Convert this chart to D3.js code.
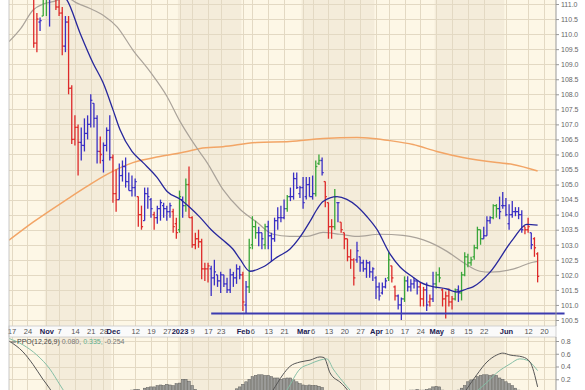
<!DOCTYPE html>
<html>
<head>
<meta charset="utf-8">
<script src="https://cdn.jsdelivr.net/npm/d3@7"></script>
<style>
  body { margin: 0; background: #fff; }
  svg { display: block; font-family: "Liberation Sans", Arial, sans-serif; }
</style>
</head>
<body>
<svg id="chart" width="585" height="390"></svg>
<script>
// daily bars, index 0 = Oct 17 2022 (trading days)
const opens = [113.2,112.0,112.1,112.9,112.8,112.0,112.0,111.3,109.7,110.4,
  110.6,111.5,111.4,111.5,112.9,110.9,110.7,109.6,110.4,108.2,
  106.5,106.9,106.4,106.3,106.7,107.0,107.7,107.2,106.1,105.8,
  106.3,106.8,105.9,104.7,104.5,105.3,105.6,105.1,104.8,104.9,
  104.6,104.0,103.8,104.7,104.5,104.0,103.9,104.2,104.3,104.2,
  104.1,104.1,103.7,103.5,104.5,104.3,105.0,103.9,103.0,103.2,
  103.1,102.2,102.2,102.2,101.9,102.0,101.8,102.0,101.7,101.5,
  102.0,101.9,102.2,102.0,101.0,101.6,103.0,103.6,103.4,103.4,
  103.0,103.6,103.3,103.2,103.8,103.9,103.9,104.2,104.6,104.6,
  105.2,104.7,104.9,104.6,105.0,104.6,104.7,105.7,105.8,105.1,
  104.4,103.6,103.6,104.4,103.75,103.4,103.2,102.6,102.5,102.5,
  102.6,102.4,102.2,102.4,102.1,101.9,101.6,101.4,101.6,101.9,
  102.3,101.6,101.3,101.0,101.2,101.8,101.6,101.7,101.8,101.6,
  101.2,101.5,101.1,101.2,101.7,102.0,101.5,101.2,101.3,101.1,
  101.2,101.5,101.4,102.0,102.6,102.4,102.6,102.9,103.5,103.2,
  103.3,103.8,103.9,104.3,104.2,104.3,104.3,103.7,104.0,104.1,
  104.1,104.0,103.6,103.5,103.4,103.2,102.7];
const highs = [113.3,112.6,113.0,113.1,113.9,112.3,112.1,111.4,110.7,110.55,
  111.6,111.8,111.8,113.1,113.0,111.3,110.9,110.6,110.6,108.3,
  107.3,107.0,106.9,107.2,107.3,108.0,107.7,107.3,106.6,106.4,
  106.9,107.3,106.0,105.5,105.7,105.8,105.9,105.4,105.3,105.2,
  104.6,104.3,104.9,104.9,104.55,104.1,104.3,104.5,104.4,104.3,
  104.4,104.2,103.9,104.8,104.6,105.2,105.6,103.95,103.4,103.5,
  103.2,102.4,102.4,102.3,102.5,102.0,102.1,102.0,101.9,102.2,
  102.1,102.35,102.3,102.1,101.8,103.2,103.95,103.8,103.6,103.4,
  103.7,103.8,103.4,103.9,104.25,104.3,104.5,104.65,104.9,105.4,
  105.4,104.95,105.25,105.25,105.25,105.3,105.8,106.0,105.9,105.1,
  104.4,103.85,104.85,104.4,103.75,103.4,103.2,102.85,102.55,103.1,
  102.6,102.5,102.5,102.45,102.25,101.95,101.75,101.75,101.9,102.75,
  102.3,101.65,101.35,101.25,101.95,101.95,101.85,101.9,101.8,101.75,
  101.6,101.75,101.35,102.1,102.1,102.25,101.55,101.45,101.55,101.3,
  101.55,101.65,102.1,102.75,102.7,102.6,103.0,103.6,103.5,103.6,
  103.95,103.95,104.35,104.35,104.6,104.75,104.55,104.35,104.45,104.25,
  104.25,104.15,103.6,103.9,103.4,103.25,102.75];
const lows = [111.9,111.7,112.0,112.5,111.9,111.5,111.2,109.55,109.4,110.1,
  110.6,110.6,110.25,111.3,110.8,110.6,109.3,109.4,108.0,106.35,
  106.3,105.3,105.8,106.1,106.5,106.9,106.9,105.7,105.7,105.4,
  106.1,105.8,104.4,104.1,104.5,105.1,104.9,104.8,104.6,104.6,
  103.6,103.5,103.8,104.2,103.9,103.5,103.7,103.8,103.9,103.8,
  103.9,103.4,103.2,103.4,103.9,104.1,103.9,102.9,102.85,102.9,
  101.85,101.8,101.75,101.3,101.65,101.6,101.4,101.6,101.4,101.4,
  101.6,101.7,101.85,100.8,100.72,101.4,102.85,103.2,102.95,102.85,
  102.85,102.85,102.45,103.1,103.5,103.75,103.85,104.1,104.45,104.5,
  104.85,104.55,104.2,104.5,104.6,104.5,104.6,105.65,105.3,104.25,
  103.2,103.2,103.5,103.75,103.4,102.85,102.45,102.2,101.65,102.4,
  102.1,102.1,101.9,101.9,101.8,101.2,101.15,101.35,101.55,101.8,
  101.75,101.15,100.85,100.5,101.1,101.45,101.45,101.55,101.35,100.95,
  100.95,100.8,100.95,101.1,101.55,101.75,100.95,100.55,100.95,100.85,
  101.15,101.1,101.15,101.95,102.25,102.3,102.5,102.85,103.0,103.2,
  103.3,103.7,103.85,103.9,103.85,104.2,103.95,103.5,103.9,103.95,
  103.85,103.4,103.35,103.4,102.85,102.6,101.75];
const closes = [112.0,112.1,112.9,112.8,112.0,112.0,111.3,109.7,110.5,110.45,
  111.5,111.4,111.3,112.9,110.9,110.7,109.6,110.4,108.2,106.5,
  106.9,106.4,106.3,106.7,107.0,107.8,107.2,106.1,106.0,106.3,
  106.8,105.9,104.7,104.5,105.3,105.6,105.1,104.8,104.9,105.1,
  104.0,103.6,104.7,104.6,104.2,103.9,104.2,104.4,104.2,104.1,
  104.3,103.6,103.4,104.6,104.3,105.0,103.9,103.0,103.2,103.1,
  102.2,102.2,102.3,101.9,102.1,101.8,102.0,101.7,101.5,102.0,
  101.9,102.2,102.0,101.1,101.6,102.9,103.6,103.4,103.4,103.2,
  103.6,103.3,103.2,103.8,103.9,103.9,104.2,104.6,104.6,105.2,
  104.9,104.9,104.4,105.0,104.6,104.7,105.6,105.8,105.4,104.6,
  103.6,103.6,104.6,104.4,103.5,103.2,102.6,102.5,101.9,102.8,
  102.4,102.2,102.4,102.1,102.2,101.6,101.3,101.6,101.8,102.5,
  101.9,101.3,101.0,101.2,101.8,101.6,101.7,101.8,101.6,101.2,
  101.5,101.0,101.2,101.7,102.0,101.9,101.2,101.3,101.1,101.2,
  101.5,101.4,102.0,102.6,102.4,102.5,102.9,103.5,103.2,103.3,
  103.8,103.9,104.3,104.2,104.1,104.3,104.0,104.0,104.1,104.1,
  104.0,103.5,103.5,103.6,103.0,102.9,101.95];
// elder impulse colour per bar: r = red, g = green, b = blue
const impulse =
  "rbgbrbrrrb" + "ggbbrrrbrr" + "rrbbbbbbrb" + "bbrrbbbbbb" + "rrbbbrbbbb" +
  "brrgbgrrrr" + "rrrbbbbbbb" + "bbbrbgggbb" + "gbbbbbbgbb" + "bbbbbbggbr" +
  "rrgbrrrrrb" + "bbbbbbbbbg" + "rrbbgbbbbr" + "rbrbggrrrr" + "gbgggggggb" +
  "bbggbbbbbb" + "bbrrbrrr".slice(0, 7);

// moving averages: [bar index, value]
const sma20 = [[0,112.4],[5,112.1],[10,111.7],[14,111.4],[17.5,111.13],[21.6,110.04],
  [25.7,109.04],[28.9,108.38],[32,107.49],[34.2,106.83],[38,106.1],[41.5,105.73],
  [45.9,105.24],[49.1,104.77],[53.2,104.51],[56.3,104.24],[59.5,103.91],[63,103.5],
  [66.4,103.18],[69.9,102.85],[72.1,102.52],[75.2,102.12],[79.3,102.26],[83.8,102.59],
  [87.8,102.85],[91,103.25],[94.2,103.78],[96.4,104.18],[98.3,104.44],[102.7,104.6],
  [105.8,104.51],[109,104.28],[112.1,103.94],[115.3,103.51],[119.4,102.7],[122.6,102.26],
  [126.7,101.92],[128.9,101.76],[132,101.63],[137.4,101.53],[140.5,101.43],[143.6,101.53],
  [145.6,101.6],[151,102.09],[158.2,103.18],[162.6,103.68],[166,103.65]];
const sma50 = [[-0.8,109.75],[3,110.2],[6.8,110.8],[10,111.0],[13.1,111.08],[17.5,111.2],
  [20.7,111.03],[24.8,110.85],[28.9,110.63],[33.3,110.24],[38.3,109.47],[43.7,108.75],
  [49.1,107.92],[53.2,107.09],[56.3,106.56],[59.5,106.06],[61.7,105.73],[66.7,104.84],
  [72.1,104.18],[77.4,103.75],[82.5,103.35],[87.8,103.28],[93.2,103.28],[98.3,103.41],
  [103.6,103.35],[109,103.28],[116.3,103.35],[123.5,103.31],[132,103.08],[137.4,102.78],
  [142.4,102.42],[147.8,102.12],[151,102.09],[158.2,102.19],[164.5,102.42],[166,102.45]];
const sma200 = [[-0.8,103.15],[6.8,103.75],[17.5,104.51],[23.8,104.94],[30.1,105.34],
  [38.3,105.73],[46.8,105.93],[55.4,106.1],[59.5,106.2],[66.7,106.26],[77.4,106.4],
  [87.8,106.43],[98.3,106.53],[109,106.56],[114,106.53],[119.4,106.46],[126.7,106.33],
  [134.2,106.1],[142.4,105.9],[153.1,105.73],[158.2,105.67],[166,105.45]];
const supportLine = { level: 100.72, from: 63, to: 174.5 };

// PPO(12,26,9) panel
const ppoLine = [[-0.8,0.8],[3.6,0.63],[6.8,0.43],[9.9,0.2],[12.1,0.05],[15,-0.2],[20,-0.6],
  [25,-0.9],[30,-1.05],[35,-1.15],[40,-1.1],[45,-1.0],[50,-0.9],[55,-0.75],[60,-0.7],
  [65,-0.65],[70,-0.55],[75,-0.4],[80,-0.15],[82.5,0.03],[85.6,0.27],[87.8,0.4],[91,0.47],
  [94.2,0.5],[97.3,0.55],[98.6,0.54],[100.5,0.3],[104,0.14],[106,0.03],[108,-0.15],
  [112,-0.3],[118,-0.45],[124,-0.5],[130,-0.45],[136,-0.4],[140,-0.25],[143.7,0.05],
  [146.8,0.27],[150,0.47],[153.1,0.58],[155,0.61],[157.3,0.58],[161.3,0.55],[163.6,0.47],[166,0.08]];
const signalLine = [[-0.8,0.84],[3.6,0.74],[8,0.58],[12.1,0.36],[15.3,0.11],[18,-0.1],
  [25,-0.6],[35,-0.95],[45,-1.05],[55,-0.95],[65,-0.8],[75,-0.65],[82,-0.3],[86.9,0.03],
  [91,0.36],[94.2,0.44],[97.3,0.5],[99.5,0.52],[101.5,0.36],[104.6,0.16],[106.8,0.03],
  [110,-0.1],[120,-0.4],[130,-0.5],[140,-0.4],[147,0.02],[150,0.15],[153.1,0.3],
  [157.3,0.44],[160.4,0.52],[162.6,0.5],[166,0.335]];
const histogram = [-0.02,-0.05,-0.08,-0.1,-0.12,-0.15,-0.18,-0.22,-0.25,-0.28,
  -0.3,-0.3,-0.32,-0.3,-0.3,-0.32,-0.35,-0.35,-0.42,-0.5,
  -0.5,-0.48,-0.45,-0.4,-0.36,-0.3,-0.28,-0.26,-0.24,-0.2,
  -0.17,-0.15,-0.15,-0.13,-0.1,-0.07,-0.05,-0.02,0.03,0.04,
  0.04,0.02,0.06,0.07,0.08,0.08,0.1,0.11,0.1,0.12,
  0.11,0.1,0.13,0.14,0.2,0.2,0.17,0.1,0.04,-0.02,
  -0.05,-0.06,-0.06,-0.07,-0.06,-0.05,-0.05,-0.04,-0.03,-0.01,
  0.02,0.05,0.08,0.12,0.16,0.2,0.24,0.26,0.27,0.27,
  0.26,0.26,0.24,0.22,0.22,0.2,0.21,0.22,0.22,0.19,
  0.16,0.13,0.11,0.1,0.11,0.1,0.1,0.09,0.07,-0.02,
  -0.1,-0.15,-0.15,-0.16,-0.18,-0.2,-0.22,-0.24,-0.26,-0.24,
  -0.22,-0.2,-0.18,-0.15,-0.12,-0.1,-0.1,-0.08,-0.06,-0.03,
  -0.03,-0.05,-0.05,-0.04,-0.02,0.02,0.03,0.03,0.04,0.03,
  0.03,0.04,0.05,0.08,0.09,0.08,0.03,-0.01,-0.02,-0.02,
  0.0,0.03,0.06,0.1,0.16,0.19,0.2,0.24,0.26,0.27,
  0.27,0.26,0.27,0.26,0.22,0.2,0.16,0.13,0.1,0.06,
  0.03,-0.03,-0.06,-0.08,-0.13,-0.19,-0.254];

// axis labels
const xTicks = [
  {i:0,label:"17"},{i:5,label:"24"},{i:11,label:"Nov",m:1},{i:15,label:"7"},{i:20,label:"14"},
  {i:25,label:"21"},{i:29,label:"28"},{i:32,label:"Dec",m:1},{i:39,label:"12"},{i:44,label:"19"},
  {i:49,label:"27"},{i:53,label:"2023",m:1},{i:57,label:"9"},{i:62,label:"17"},{i:66,label:"23"},
  {i:73,label:"Feb",m:1},{i:76,label:"6"},{i:81,label:"13"},{i:86,label:"21"},{i:92,label:"Mar",m:1},
  {i:95,label:"6"},{i:100,label:"13"},{i:105,label:"20"},{i:110,label:"27"},{i:115,label:"Apr",m:1},
  {i:119,label:"10"},{i:124,label:"17"},{i:129,label:"24"},{i:134,label:"May",m:1},{i:139,label:"8"},
  {i:144,label:"15"},{i:149,label:"22"},{i:156,label:"Jun",m:1},{i:163,label:"12"},{i:168,label:"20"}];
const monthStarts = [-1, 11, 32, 53, 73, 92, 115, 134, 156, 173];
const priceTicks = [100.5,101,101.5,102,102.5,103,103.5,104,104.5,105,105.5,106,
  106.5,107,107.5,108,108.5,109,109.5,110,110.5,111];
const ppoTicks = [0.2, 0.4, 0.6, 0.8];
const ppoLegend = ["PPO(12,26,9)", "0.080,", "0.335,", "-0.254"];

const svg = d3.select("#chart");
const left = 9, right = 556;
const price = { top: -2, bottom: 326 };
const band = { top: 326, bottom: 337 };
const ppo = { top: 337, bottom: 392 };

const x = d3.scaleLinear().domain([-0.8, 171.8]).range([left, right]);
const y = d3.scaleLinear().domain([100.5, 111]).range([320, 4]);
const yp = d3.scaleLinear().domain([0, 0.8]).range([392, 341]);

const colors = { r: "#dd2a2a", g: "#3aa63a", b: "#3a2fc4" };

const defs = svg.append("defs");
defs.append("clipPath").attr("id", "clipPrice").append("rect")
  .attr("x", left).attr("y", price.top).attr("width", right - left).attr("height", price.bottom - price.top);
defs.append("clipPath").attr("id", "clipPpo").append("rect")
  .attr("x", left).attr("y", ppo.top).attr("width", right - left).attr("height", ppo.bottom - ppo.top);

// background panels with month shading
function drawPanel(p, gridTicks, yScale) {
  const g = svg.append("g");
  g.append("rect").attr("x", left).attr("y", p.top).attr("width", right - left)
    .attr("height", p.bottom - p.top).attr("fill", "#fdf7e6");
  for (let k = 0; k < monthStarts.length - 1; k++) {
    if (k % 2 === 1) {
      const x0 = Math.max(left, x(monthStarts[k] - 0.5));
      const x1 = Math.min(right, x(monthStarts[k + 1] - 0.5));
      g.append("rect").attr("x", x0).attr("y", p.top).attr("width", x1 - x0)
        .attr("height", p.bottom - p.top).attr("fill", "#f4ecda");
    }
  }
  g.selectAll("line.h").data(gridTicks).enter().append("line")
    .attr("x1", left).attr("x2", right)
    .attr("y1", d => Math.round(yScale(d)) + 0.5).attr("y2", d => Math.round(yScale(d)) + 0.5)
    .attr("stroke", "#e3d9c3").attr("stroke-width", 1);
  g.selectAll("line.v").data(xTicks).enter().append("line")
    .attr("x1", d => Math.round(x(d.i)) + 0.5).attr("x2", d => Math.round(x(d.i)) + 0.5)
    .attr("y1", p.top).attr("y2", p.bottom)
    .attr("stroke", "#e3d9c3").attr("stroke-width", 1);
  return g;
}
drawPanel(price, priceTicks, y);
drawPanel(ppo, [0].concat(ppoTicks), yp);

// price panel marks
const pg = svg.append("g").attr("clip-path", "url(#clipPrice)");
const maLine = d3.line().x(d => x(d[0])).y(d => y(d[1])).curve(d3.curveMonotoneX);
pg.append("path").datum(sma200).attr("d", maLine).attr("fill", "none")
  .attr("stroke", "#f2a566").attr("stroke-width", 1.5);
pg.append("path").datum(sma50).attr("d", maLine).attr("fill", "none")
  .attr("stroke", "#aaa39a").attr("stroke-width", 1.2);

const bars = pg.selectAll("g.bar").data(d3.range(closes.length)).enter().append("g")
  .attr("stroke", i => colors[impulse[i]]).attr("stroke-width", 1.3);
bars.append("line").attr("x1", i => x(i)).attr("x2", i => x(i))
  .attr("y1", i => y(highs[i])).attr("y2", i => y(lows[i]));
bars.append("line").attr("x1", i => x(i) - 1.6).attr("x2", i => x(i))
  .attr("y1", i => y(opens[i])).attr("y2", i => y(opens[i]));
bars.append("line").attr("x1", i => x(i)).attr("x2", i => x(i) + 1.6)
  .attr("y1", i => y(closes[i])).attr("y2", i => y(closes[i]));

pg.append("path").datum(sma20).attr("d", maLine).attr("fill", "none")
  .attr("stroke", "#27279c").attr("stroke-width", 1.3);

svg.append("line")
  .attr("x1", x(supportLine.from)).attr("x2", x(supportLine.to))
  .attr("y1", y(supportLine.level)).attr("y2", y(supportLine.level))
  .attr("stroke", "#3b3bb0").attr("stroke-width", 2);

// PPO panel marks
const qg = svg.append("g").attr("clip-path", "url(#clipPpo)");
qg.selectAll("rect.hist").data(histogram).enter().append("rect")
  .attr("x", (d, i) => x(i) - 1.3).attr("width", 2.6)
  .attr("y", d => yp(Math.max(0, d))).attr("height", d => Math.abs(yp(d) - yp(0)))
  .attr("fill", "#9b9b98").attr("stroke", "#5d5d5a").attr("stroke-width", 0.5);
const ppoPath = d3.line().x(d => x(d[0])).y(d => yp(d[1])).curve(d3.curveMonotoneX);
qg.append("path").datum(signalLine).attr("d", ppoPath).attr("fill", "none")
  .attr("stroke", "#86bfa6").attr("stroke-width", 1);
qg.append("path").datum(ppoLine).attr("d", ppoPath).attr("fill", "none")
  .attr("stroke", "#555", ).attr("stroke-width", 1);

const legend = svg.append("text").attr("x", 11).attr("y", 344)
  .attr("font-size", 7).attr("fill", "#444");
legend.append("tspan").text("\u2550").attr("fill", "#666");
legend.append("tspan").text(ppoLegend[0]).attr("dx", 1);
legend.append("tspan").text(" " + ppoLegend[1]).attr("fill", "#777");
legend.append("tspan").text(" " + ppoLegend[2]).attr("fill", "#5fae8c");
legend.append("tspan").text(" " + ppoLegend[3]).attr("fill", "#777");

// date band
svg.append("rect").attr("x", left).attr("y", band.top).attr("width", right - left)
  .attr("height", band.bottom - band.top).attr("fill", "#fafafa")
  .attr("stroke", "#c9c9c9").attr("stroke-width", 0.8);
svg.append("g").attr("transform", `translate(0,${band.top + 2})`)
  .call(d3.axisBottom(x).tickValues(xTicks.map(d => d.i))
    .tickFormat((d, k) => xTicks[k].label).tickSize(0).tickPadding(1))
  .call(g => g.select(".domain").remove())
  .selectAll("text")
  .attr("font-size", 7.5)
  .attr("font-family", "Liberation Sans, Arial, sans-serif")
  .attr("font-weight", (d, k) => xTicks[k].m ? "bold" : "normal")
  .attr("fill", (d, k) => xTicks[k].m ? "#1c2050" : "#555");

// right axes
function rightAxis(scale, ticks, fmt, p) {
  const g = svg.append("g").attr("transform", `translate(${right},0)`)
    .call(d3.axisRight(scale).tickValues(ticks).tickFormat(fmt).tickSize(3).tickPadding(2));
  g.select(".domain").attr("d", `M0,${p.top}V${p.bottom}`).attr("stroke", "#999");
  g.selectAll(".tick line").attr("stroke", "#999");
  g.selectAll("text").attr("font-size", 7).attr("fill", "#666")
    .attr("font-family", "Liberation Sans, Arial, sans-serif");
}
rightAxis(y, priceTicks, d3.format(".1f"), price);
rightAxis(yp, ppoTicks, d3.format(".1f"), ppo);

svg.append("line").attr("x1", left).attr("x2", left).attr("y1", 0).attr("y2", 390)
  .attr("stroke", "#bbb").attr("stroke-width", 0.8);
</script>
</body>
</html>
